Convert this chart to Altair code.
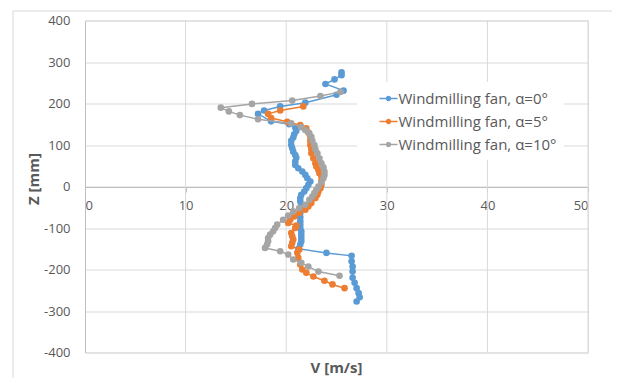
import altair as alt
import pandas as pd

categories = ["Windmilling fan, α=0°", "Windmilling fan, α=5°", "Windmilling fan, α=10°"]
colors = ["#5B9BD5", "#ED7D31", "#A5A5A5"]

# alpha = 0
z0 = [275, 268, 258, 247, 231, 221, 202, 193, 183, 175, 157, 150, 142, 134, 126, 118, 110, 100, 92,
      84, 76, 69, 60, 52, 44, 36, 28, 20, 12, 4, -4, -12, -20, -28, -36, -44, -54, -64, -74, -84,
      -92, -100, -108, -116, -124, -132, -140, -150, -160, -167, -180, -193, -205, -220, -232,
      -245, -257, -267, -277]
v0 = [25.5, 25.5, 24.8, 23.9, 25.7, 25.0, 21.9, 19.4, 17.8, 17.2, 18.5, 20.3, 20.9, 21.0, 20.8, 20.7,
      20.5, 20.5, 20.6, 20.7, 20.9, 21.0, 20.9, 20.9, 21.2, 21.6, 21.9, 22.1, 22.4, 22.2, 22.0, 21.8,
      21.5, 21.4, 21.4, 21.5, 21.5, 21.4, 21.4, 21.4, 21.4, 21.4, 21.5, 21.5, 21.5, 21.5, 21.4, 21.2,
      24.0, 26.5, 26.5, 26.6, 26.6, 26.6, 26.8, 27.0, 27.2, 27.3, 27.0]

# alpha = 5
z5 = [193, 183, 175, 165, 156, 148, 140, 130, 120, 110, 100, 90, 80, 68, 56, 48, 40, 32, 24, 14, 4,
      -4, -12, -20, -28, -40, -48, -56, -64, -72, -80, -88, -94, -100, -112, -120, -128, -136, -144,
      -152, -160, -172, -188, -200, -208, -217, -227, -236, -245]
v5 = [21.7, 19.4, 18.2, 18.5, 20.1, 21.4, 22.0, 22.2, 22.4, 22.4, 22.4, 22.5, 22.5, 22.7, 22.9, 23.0,
      23.2, 23.3, 23.5, 23.5, 23.5, 23.4, 23.2, 23.1, 22.9, 22.5, 22.2, 21.9, 21.3, 20.8, 20.4, 20.2,
      21.0, 20.9, 20.5, 20.6, 20.7, 20.6, 20.5, 21.3, 21.1, 21.2, 21.4, 21.6, 22.0, 22.7, 23.8, 24.6,
      25.8]

# alpha = 10
z10 = [228, 218, 207, 199, 190, 181, 172, 162, 152, 143, 136, 128, 120, 110, 100, 90, 80, 68, 56, 46,
       36, 28, 20, 10, 0, -8, -16, -24, -32, -44, -52, -60, -70, -80, -92, -100, -108, -116, -124,
       -132, -140, -148, -156, -164, -176, -184, -193, -205, -215]
v10 = [25.4, 23.4, 20.6, 16.6, 13.5, 14.3, 15.4, 17.2, 20.5, 21.5, 21.9, 22.3, 22.5, 22.6, 22.8, 22.9,
       23.1, 23.3, 23.5, 23.7, 23.8, 23.8, 23.7, 23.5, 23.2, 23.0, 22.8, 22.6, 22.3, 21.9, 21.3, 20.7,
       20.2, 19.7, 19.1, 18.9, 18.7, 18.4, 18.2, 18.2, 18.1, 17.9, 19.4, 20.2, 20.7, 21.5, 22.2, 23.2,
       25.3]

x_ticks = [0, 10, 20, 30, 40, 50]
y_ticks = [-400, -300, -200, -100, 0, 100, 200, 300, 400]
x_title = "V [m/s]"

FONT = "Open Sans"
TXT = "#595959"
W, H = 503, 332

series = [(categories[0], z0, v0), (categories[1], z5, v5), (categories[2], z10, v10)]
frames = []
for name, zs, vs in series:
    frames.append(pd.DataFrame({"series": name, "i": list(range(len(zs))), "Z": zs, "V": vs}))

x_scale = alt.Scale(domain=[0, 50], nice=False, zero=False)
y_scale = alt.Scale(domain=[-400, 400], nice=False, zero=False)

x_axis = alt.Axis(values=x_ticks, grid=False, offset=-165.5, domainColor="#BFBFBF",
                  tickColor="#BFBFBF", tickSize=5, labelColor=TXT, labelFont=FONT,
                  labelFontSize=13, labelPadding=7, title=None, labelExpr="'' + datum.value")
y_axis = alt.Axis(values=y_ticks, grid=True, gridColor="#D9D9D9", domainColor="#BFBFBF",
                  ticks=False, labelPadding=15, labelColor=TXT, labelFont=FONT, labelFontSize=13,
                  labelExpr="'' + datum.value",
                  title="Z [mm]", titleFont=FONT, titleFontSize=15, titleFontWeight="bold",
                  titleColor=TXT, titleX=-52, titleY=158, titleAngle=270, titleAlign="center",
                  titleBaseline="middle")

X = alt.X("V:Q", scale=x_scale, axis=x_axis)
Y = alt.Y("Z:Q", scale=y_scale, axis=y_axis)

legend_path = ("M-1,-0.08L1,-0.08L1,0.08L-1,0.08Z"
               "M-0.3,0A0.3,0.3 0 1,1 0.3,0A0.3,0.3 0 1,1 -0.3,0Z")
color_scale = alt.Scale(domain=categories, range=colors)
legend = alt.Legend(title=None, orient="none", legendX=272, legendY=61.5, fillColor="white",
                    padding=7.5, symbolType=legend_path, symbolSize=324, symbolOffset=15,
                    symbolStrokeWidth=0, symbolOpacity=1, labelOffset=1, labelFontSize=15,
                    labelColor=TXT, labelFont=FONT, rowPadding=6, labelLimit=400)
COLOR = alt.Color("series:N", scale=color_scale, legend=legend)

frame = alt.Chart(pd.DataFrame({"a": [0]})).mark_rect(fillOpacity=0, stroke="#D9D9D9",
                                                      strokeWidth=1).encode(
    x=alt.value(-72), x2=alt.value(528), y=alt.value(-9.5), y2=alt.value(358))

grid = alt.Chart(pd.DataFrame({"V": x_ticks[1:]})).mark_rule(color="#D9D9D9", strokeWidth=1).encode(x=X)

title = alt.Chart(pd.DataFrame({"t": [x_title]})).mark_text(
    font=FONT, fontSize=15, fontWeight="bold", color=TXT, baseline="middle", align="center"
).encode(text="t:N", x=alt.value(W / 2), y=alt.value(347))

layers = [frame, grid]
for df in frames:
    base = alt.Chart(df)
    line = base.mark_line(strokeWidth=1.5).encode(x=X, y=Y, order=alt.Order("i:Q"), color=COLOR)
    pts = base.mark_circle(size=44, opacity=1).encode(x=X, y=Y, color=COLOR)
    layers += [line, pts]
layers.append(title)

chart = alt.layer(*layers).properties(
    width=W, height=H,
    autosize=alt.AutoSizeParams(type="none"),
    padding={"left": 77, "top": 12.5, "right": 24, "bottom": 25},
).configure_view(stroke=None).configure(background="white")

chart.save("out.html", embed_options={"renderer": "svg", "actions": False})
